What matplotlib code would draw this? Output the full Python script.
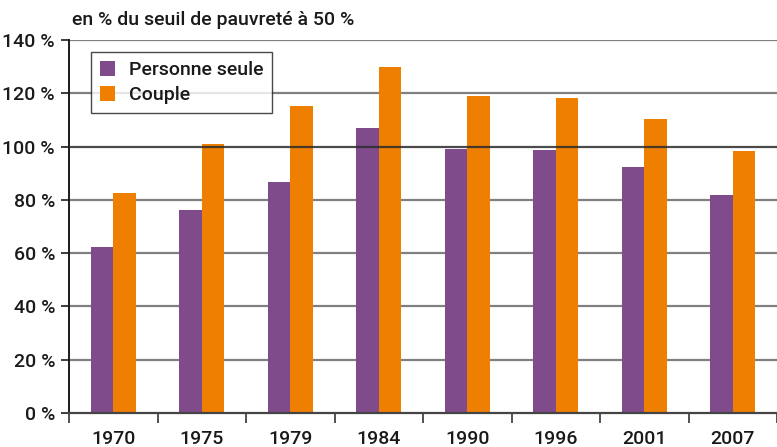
import matplotlib

matplotlib.use("Agg")
import matplotlib.pyplot as plt
import numpy as np

# Minimum vieillesse, en % du seuil de pauvreté à 50 %
annees = ["1970", "1975", "1979", "1984", "1990", "1996", "2001", "2007"]
personne_seule = [62.3, 76.2, 86.7, 106.9, 99.1, 98.7, 92.3, 81.8]
couple = [82.5, 100.9, 115.2, 129.8, 119.0, 118.2, 110.3, 98.3]
y_ticks = [0, 20, 40, 60, 80, 100, 120, 140]

VIOLET = "#7f4b8b"
ORANGE = "#ee7f00"
GRID = "#808080"
INK = "#1a1a1a"

plt.rcParams.update({
    "font.family": ["Roboto", "DejaVu Sans"],
    "font.size": 13,
    "font.weight": 500,
})

W, H = 777, 447
fig = plt.figure(figsize=(W / 100, H / 100), dpi=100)
ax = fig.add_axes([69 / W, 34 / H, (W - 69) / W, 373 / H])

x = np.arange(len(annees))
bw = 0.257
ax.bar(x - bw / 2, personne_seule, bw, color=VIOLET, label="Personne seule", zorder=2)
ax.bar(x + bw / 2, couple, bw, color=ORANGE, label="Couple", zorder=2)

ax.set_xlim(-0.5, -0.5 + (W - 69) / 89.5)
ax.set_ylim(0, 140)

for v in y_ticks[1:]:
    if v == 100:
        ax.axhline(v, color="#2b2b2b", lw=1.6, zorder=3, alpha=0.85)
    else:
        ax.axhline(v, color=GRID, lw=1.6, zorder=1)

ax.set_yticks(y_ticks)
ax.set_yticklabels([f"{v} %" for v in y_ticks], fontsize=14, color=INK)
ax.tick_params(axis="y", length=6, width=1.2, color=INK, pad=4)

ax.set_xticks(x)
ax.set_xticklabels(annees, fontsize=14, color=INK)
ax.tick_params(axis="x", length=0, pad=12)
ax.set_xticks(np.arange(len(annees) + 1) - 0.5, minor=True)
ax.tick_params(axis="x", which="minor", length=7, width=1.2, color="#333333")

for s in ("top", "right"):
    ax.spines[s].set_visible(False)
ax.spines["left"].set_color(INK)
ax.spines["left"].set_linewidth(1.4)
ax.spines["bottom"].set_color("#444444")
ax.spines["bottom"].set_linewidth(1.6)

leg = ax.legend(
    loc="upper left", bbox_to_anchor=(22 / (W - 69), 1 - 12 / 373),
    frameon=True, fancybox=False, fontsize=14, handlelength=0.8,
    handleheight=0.8, handletextpad=0.7, borderpad=0.45, labelspacing=0.35,
    borderaxespad=0,
)
leg.get_frame().set_edgecolor(INK)
leg.get_frame().set_linewidth(1.0)
leg.set_zorder(5)
for t in leg.get_texts():
    t.set_color(INK)

fig.text(72 / W, 1 - 25 / H, "en % du seuil de pauvreté à 50 %", fontsize=14,
         color=INK, ha="left", va="baseline")

fig.savefig("out.png", dpi=100, facecolor="white")
